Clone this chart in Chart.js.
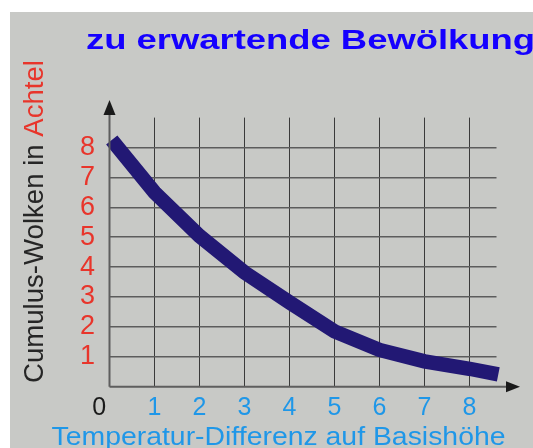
<!DOCTYPE html>
<html>
<head>
<meta charset="utf-8">
<script src="https://cdn.jsdelivr.net/npm/chart.js@4/dist/chart.umd.min.js"></script>
<style>
html,body{margin:0;padding:0;background:#c8c9c6;overflow:hidden;}
#wrap{position:absolute;left:0;top:0;width:533px;height:448px;}
</style>
</head>
<body>
<div id="wrap"><canvas id="c" width="533" height="448"></canvas></div>
<script>
// ---- data ----
const titleText = "zu erwartende Bewölkung";
const yTitleDark = "Cumulus-Wolken in ";
const yTitleRed = "Achtel";
const xTitleText = "Temperatur-Differenz auf Basishöhe";
const xValues = [0.05, 1, 2, 3, 4, 5, 6, 7, 8, 8.64];
const yValues = [8.25, 6.5, 5.04, 3.82, 2.82, 1.85, 1.23, 0.85, 0.6, 0.41];
const xTickValues = [0, 1, 2, 3, 4, 5, 6, 7, 8];
const yTickValues = [1, 2, 3, 4, 5, 6, 7, 8];

const points = xValues.map((x, i) => ({x: x, y: yValues[i]}));

const RED = '#e8352b', BLUE = '#1f97e8', DARK = '#262626';

function fitText(ctx, text, x, y, width, font) {
  ctx.font = font;
  const w = ctx.measureText(text).width;
  ctx.save();
  ctx.translate(x, y);
  ctx.scale(width / w, 1);
  ctx.fillText(text, 0, 0);
  ctx.restore();
}

const decor = {
  id: 'decor',
  beforeDraw(chart) {
    const ctx = chart.ctx;
    ctx.save();
    ctx.fillStyle = '#ffffff';
    ctx.fillRect(0, 0, chart.width, chart.height);
    ctx.fillStyle = '#c8c9c6';
    ctx.fillRect(10, 12, chart.width - 10, chart.height - 12);
    ctx.restore();
  },
  afterDatasetsDraw(chart) {
    const ctx = chart.ctx;
    const xs = chart.scales.x, ys = chart.scales.y;
    const x0 = xs.getPixelForValue(0), y0 = ys.getPixelForValue(0);
    ctx.save();
    ctx.strokeStyle = '#5e5e5e';
    ctx.lineWidth = 2;
    ctx.beginPath();
    ctx.moveTo(x0, y0);
    ctx.lineTo(x0, 112);
    ctx.moveTo(x0, y0);
    ctx.lineTo(508, y0);
    ctx.stroke();
    ctx.fillStyle = '#1a1a1a';
    ctx.beginPath();
    ctx.moveTo(x0, 100);
    ctx.lineTo(x0 - 6, 115);
    ctx.lineTo(x0 + 6, 115);
    ctx.closePath();
    ctx.fill();
    ctx.beginPath();
    ctx.moveTo(520, y0);
    ctx.lineTo(506, y0 - 5.5);
    ctx.lineTo(506, y0 + 5.5);
    ctx.closePath();
    ctx.fill();
    ctx.restore();
  },
  afterDraw(chart) {
    const ctx = chart.ctx;
    ctx.save();
    ctx.textBaseline = 'alphabetic';
    ctx.textAlign = 'left';
    ctx.fillStyle = '#1500ff';
    fitText(ctx, titleText, 86, 48.5, 449, 'bold 28px "Liberation Sans", Arial, sans-serif');
    ctx.fillStyle = BLUE;
    fitText(ctx, xTitleText, 51.5, 444.5, 454, '26px "Liberation Sans", Arial, sans-serif');
    ctx.font = '27px "Liberation Sans", Arial, sans-serif';
    const wd = ctx.measureText(yTitleDark).width;
    const wr = ctx.measureText(yTitleRed).width;
    const sc = 323 / (wd + wr);
    ctx.translate(43, 383);
    ctx.rotate(-Math.PI / 2);
    ctx.scale(sc, 1);
    ctx.fillStyle = DARK;
    ctx.fillText(yTitleDark, 0, 0);
    ctx.fillStyle = RED;
    ctx.fillText(yTitleRed, wd, 0);
    ctx.restore();
  }
};

new Chart(document.getElementById('c'), {
  type: 'line',
  data: {
    datasets: [{
      data: points,
      borderColor: '#221874',
      borderWidth: 14.5,
      borderCapStyle: 'butt',
      borderJoinStyle: 'miter',
      pointRadius: 0,
      tension: 0,
      fill: false,
      clip: false
    }]
  },
  options: {
    responsive: false,
    animation: false,
    events: [],
    layout: {padding: {top: 117.6, right: 36.5, left: 0, bottom: 0}},
    plugins: {legend: {display: false}, tooltip: {enabled: false}, title: {display: false}},
    scales: {
      x: {
        type: 'linear',
        min: 0, max: 8.6,
        afterFit(s) { s.height = 61.3; },
        afterBuildTicks(s) { s.ticks = xTickValues.map(v => ({value: v})); },
        border: {display: false},
        grid: {
          drawTicks: false,
          lineWidth: 1,
          color: c => (c.tick && c.tick.value === 0) ? 'rgba(0,0,0,0)' : '#3a3a3a'
        },
        ticks: {
          autoSkip: false,
          maxRotation: 0,
          includeBounds: false,
          padding: 6,
          color: c => (c.tick && c.tick.value === 0) ? '#1a1a1a' : BLUE,
          font: {family: '"Liberation Sans", Arial, sans-serif', size: 25},
          callback: v => v === 0 ? '0   ' : String(v)
        }
      },
      y: {
        type: 'linear',
        min: 0, max: 9,
        afterFit(s) { s.width = 109.5; },
        afterBuildTicks(s) { s.ticks = [0].concat(yTickValues).concat([9]).map(v => ({value: v})); },
        border: {display: false},
        grid: {
          drawTicks: false,
          lineWidth: 1.5,
          color: c => (c.tick && (c.tick.value === 0 || c.tick.value === 9)) ? 'rgba(0,0,0,0)' : '#5c5c5c'
        },
        ticks: {
          autoSkip: false,
          includeBounds: false,
          padding: 14.5,
          color: RED,
          font: {family: '"Liberation Sans", Arial, sans-serif', size: 27},
          callback: v => (v === 0 || v === 9) ? '' : String(v)
        }
      }
    }
  },
  plugins: [decor]
});
</script>
</body>
</html>
